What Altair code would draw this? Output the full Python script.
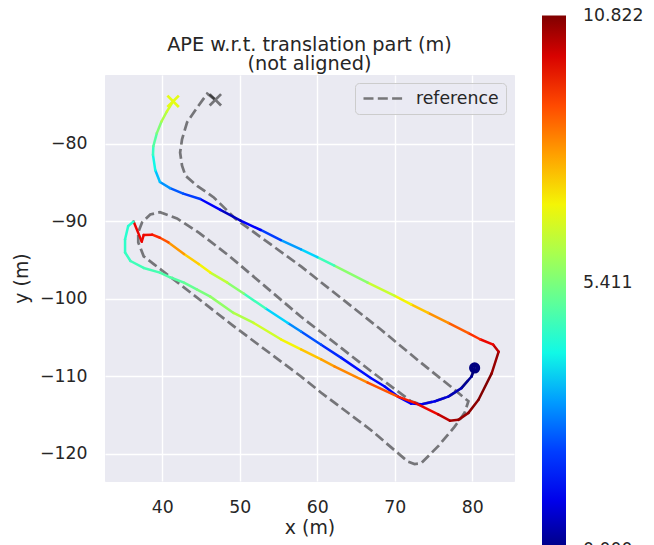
import altair as alt
import numpy as np
import pandas as pd

# ---------------- data ----------------
est_x = [80.3, 79.9, 78.6, 76.9, 75.2, 73.4, 72.1, 70.4, 68.7, 66.9,
         63.1, 60.5, 57.9, 56.2, 53.3, 50.5, 48.4, 46.2, 44.7, 42.8,
         40.8, 39.7, 38.7, 37.6, 37.35, 36.3, 35.6, 35.2, 35.2, 35.9,
         37.6, 39.7, 41.0, 42.8, 44.5, 46.2, 49.2, 51.8, 55.3, 57.9,
         60.5, 62.2, 66.5, 70.4, 72.6, 75.6, 77.1, 78.2, 79.5, 80.8,
         82.5, 83.4, 82.7, 81.0, 79.5, 76.9, 74.3, 72.1, 70.0, 66.5,
         62.2, 60.0, 57.9, 55.3, 52.7, 50.1, 47.5, 44.9, 42.7, 41.0,
         39.7, 39.1, 38.8, 38.85, 39.3, 39.9, 40.6, 41.4]
est_y = [-108.9, -110.0, -111.5, -112.6, -113.2, -113.6, -113.5, -112.6, -111.3, -110.2,
         -107.6, -105.9, -104.2, -103.1, -101.2, -99.3, -97.9, -96.6, -95.5, -94.2,
         -92.7, -92.1, -91.7, -91.75, -92.6, -90.0, -90.6, -92.3, -94.0, -95.1,
         -96.0, -96.6, -97.2, -97.9, -98.8, -99.7, -101.8, -103.1, -105.2, -106.5,
         -107.8, -108.7, -110.8, -112.6, -113.4, -114.9, -115.7, -115.6, -114.7, -113.0,
         -109.6, -106.8, -105.9, -105.2, -104.4, -103.1, -101.8, -100.7, -99.6, -97.9,
         -95.7, -94.6, -93.6, -92.4, -91.1, -89.9, -88.5, -87.1, -86.4, -85.7,
         -84.9, -83.4, -81.4, -80.3, -78.6, -77.1, -75.8, -74.5]
est_err = [0.0, 0.2, 0.5, 0.8, 1.0, 1.2, 1.3, 1.3, 1.4, 1.5,
           1.8, 2.2, 2.8, 3.6, 4.6, 5.6, 6.3, 7.0, 7.5, 8.1,
           8.9, 9.4, 9.7, 9.8, 9.8, 4.3, 4.3, 4.4, 4.5, 4.6,
           4.7, 4.8, 4.9, 5.1, 5.4, 5.7, 6.1, 6.5, 7.0, 7.6,
           8.0, 8.3, 8.9, 9.5, 9.8, 10.2, 10.5, 10.6, 10.7, 10.8,
           10.6, 10.2, 9.8, 9.3, 8.8, 8.2, 7.6, 7.0, 6.4, 5.6,
           4.6, 3.6, 3.0, 2.0, 1.3, 0.6, 1.3, 2.0, 2.3, 2.9,
           3.4, 4.0, 4.5, 4.9, 5.5, 6.1, 6.5, 6.8]

ref_x = [80.3, 79.9, 78.6, 76.9, 75.2, 73.4, 72.1, 66.9, 60.5, 57.9,
         48.7, 44.8, 41.9, 39.7, 38.45, 37.4, 36.9, 36.9, 37.6, 38.9,
         41.5, 49.2, 57.9, 60.5, 66.9, 71.7, 72.55, 73.4, 75.6, 77.7,
         79.0, 79.5, 77.7, 73.4, 68.2, 57.9, 49.5, 46.65, 44.5, 43.0,
         42.55, 42.3, 42.55, 43.2, 44.5, 45.8, 46.85]
ref_y = [-108.9, -110.0, -111.5, -112.6, -113.2, -113.6, -113.2, -109.3, -104.3, -102.3,
         -94.5, -91.5, -89.6, -88.8, -89.1, -90.1, -91.4, -92.7, -94.5, -95.5,
         -97.5, -103.5, -110.0, -112.1, -116.9, -121.0, -121.3, -121.2, -119.0, -116.5,
         -114.7, -113.2, -111.7, -108.25, -103.95, -95.8, -89.7, -86.9, -85.4, -84.1,
         -82.8, -81.1, -79.4, -77.2, -75.3, -73.5, -74.3]

x_ticks = [40, 50, 60, 70, 80]
y_ticks = [-80, -90, -100, -110, -120]
cbar_ticks = [0.0, 5.411, 10.822]
err_max = 10.822
title_lines = ["APE w.r.t. translation part (m)", "(not aligned)"]
ref_label = "reference"

# ---------------- jet colormap (style) ----------------
def jet_hex(t):
    r = np.interp(t, [0, 0.35, 0.66, 0.89, 1], [0, 0, 1, 1, 0.5])
    g = np.interp(t, [0, 0.125, 0.375, 0.64, 0.91, 1], [0, 0, 1, 1, 0, 0])
    b = np.interp(t, [0, 0.11, 0.34, 0.65, 1], [0.5, 1, 1, 0, 0])
    return "#{:02x}{:02x}{:02x}".format(int(round(r * 255)), int(round(g * 255)), int(round(b * 255)))

stops = np.linspace(0, 1, 33)
c_domain = [float(s * err_max) for s in stops]
c_range = [jet_hex(s) for s in stops]

# colorbar label positions, nudged a hair inside the ends so that every label
# is centred on its tick (Vega otherwise top/bottom-aligns the end labels)
tiny = 1e-4
cbar_pos = [min(max(v, tiny), err_max - tiny) for v in cbar_ticks]

# ---------------- tables ----------------
seg_df = pd.DataFrame({"x": est_x[:-1], "y": est_y[:-1],
                       "x2": est_x[1:], "y2": est_y[1:], "err": est_err[:-1]})
ref_df = pd.DataFrame({"x": ref_x, "y": ref_y, "i": list(range(len(ref_x))),
                       "name": [ref_label] * len(ref_x)})
start_df = pd.DataFrame({"x": [est_x[0]], "y": [est_y[0]], "err": [est_err[0]]})
end_df = pd.DataFrame({"x": [est_x[-1]], "y": [est_y[-1]], "err": [est_err[-1]]})
ref_end_df = pd.DataFrame({"x": [ref_x[-1]], "y": [ref_y[-1]]})

TXT = "#262626"
FONT = "DejaVu Sans"

xs = alt.Scale(domain=[32.61, 85.38], nice=False, zero=False)
ys = alt.Scale(domain=[-123.49, -71.1], nice=False, zero=False)
cs = alt.Scale(domain=c_domain, range=c_range, interpolate="rgb")

X = alt.X("x:Q", scale=xs, axis=alt.Axis(values=x_ticks, title="x (m)", labelPadding=17, titlePadding=3))
Y = alt.Y("y:Q", scale=ys, axis=alt.Axis(values=y_ticks, title="y (m)", labelPadding=18, titlePadding=8))

XMARK = "M-1,-1L1,1M1,-1L-1,1"

ref_line = alt.Chart(ref_df).mark_line(
    stroke="black", strokeOpacity=0.5, strokeWidth=2.7
).encode(
    x=X, y=Y, order="i:Q",
    strokeDash=alt.StrokeDash(
        "name:N",
        scale=alt.Scale(domain=[ref_label], range=[[10, 4.3]]),
        legend=alt.Legend(
            orient="top-right", offset=8, title=None,
            fillColor="rgba(234,234,242,0.8)", strokeColor="#cccccc",
            cornerRadius=4, padding=7, clipHeight=17,
            labelFont=FONT, labelFontSize=17.3, labelColor=TXT, labelOffset=11,
            symbolType="stroke", symbolSize=1600, symbolStrokeWidth=2.7,
            symbolStrokeColor="#777779", symbolOpacity=1,
        ),
    ),
)

ref_end = alt.Chart(ref_end_df).mark_point(
    shape=XMARK, filled=False, color="black", opacity=0.5, size=130, strokeWidth=2.7
).encode(x=X, y=Y)

color_enc = alt.Color(
    "err:Q", scale=cs,
    legend=alt.Legend(
        type="gradient",
        orient="none", legendX=437, legendY=-59.5, direction="vertical",
        gradientLength=535, gradientThickness=24, values=cbar_pos, format=".3f",
        labelFont=FONT, labelFontSize=17.3, labelColor=TXT, labelOffset=17,
        labelOverlap=False, gradientStrokeWidth=0,
        padding=0, title=None,
    ),
)

traj = alt.Chart(seg_df).mark_rule(strokeWidth=2.5, strokeCap="round").encode(
    x=X, y=Y, x2="x2:Q", y2="y2:Q", color=color_enc,
)

end_x = alt.Chart(end_df).mark_point(
    shape=XMARK, filled=False, size=130, strokeWidth=2.7, opacity=1
).encode(x=X, y=Y, color=color_enc)

# start marker: a small circle with a thick outline renders as a solid dot
start_pt = alt.Chart(start_df).mark_point(
    shape="circle", filled=False, size=22, strokeWidth=6.5, opacity=1
).encode(x=X, y=Y, color=color_enc)

chart = alt.layer(ref_line, ref_end, traj, end_x, start_pt).properties(
    width=409, height=406,
    title=alt.TitleParams(
        text=title_lines, font=FONT, fontSize=19.3, fontWeight="normal", color=TXT,
        anchor="middle", frame="group", offset=0, dy=59, lineHeight=19.5,
    ),
    autosize=alt.AutoSizeParams(type="none"),
    padding={"left": 97, "top": 67, "right": 132, "bottom": 64},
).configure_view(
    fill="#EAEAF2", stroke="#EAEAF2"
).configure_axis(
    labelFont=FONT, labelFontSize=17.3, labelColor=TXT,
    titleFont=FONT, titleFontSize=18.9, titleFontWeight="normal", titleColor=TXT,
    grid=True, gridColor="white", gridWidth=1.4, domain=False, ticks=False,
)

chart.save("out.html", embed_options={"renderer": "svg", "actions": False})
